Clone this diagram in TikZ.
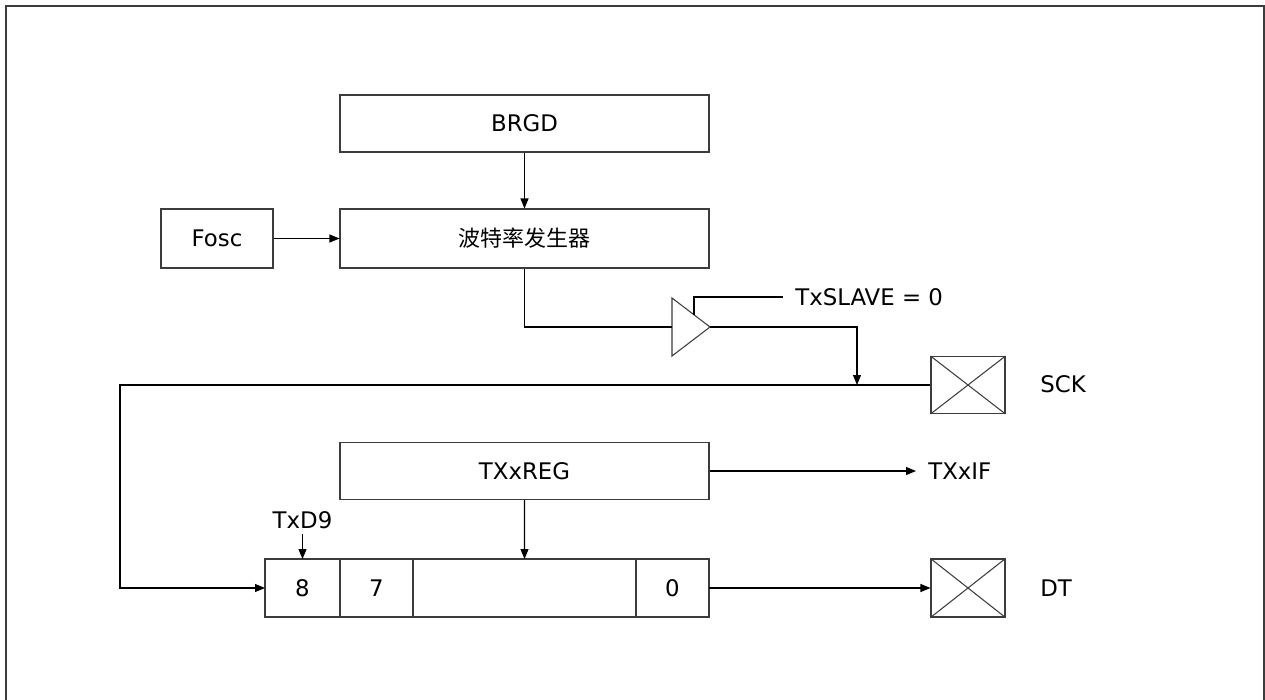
\documentclass[tikz,border=0pt]{standalone}
\usepackage{fontspec}
\setmainfont{DejaVu Sans}
\newfontfamily\cjk{Noto Sans CJK SC}
\usepackage{tikz}
\usetikzlibrary{positioning,arrows.meta,calc}
\definecolor{boxgray}{RGB}{60,60,60}
\tikzset{
  block-node/.style={draw=boxgray, line width=0.6pt, minimum width=369*0.02cm,
    minimum height=57*0.02cm, font=\fontsize{13}{15}\selectfont, inner sep=0pt},
  small-node/.style={draw=boxgray, line width=0.6pt, minimum width=112*0.02cm,
    minimum height=59*0.02cm, font=\fontsize{13}{15}\selectfont, inner sep=0pt},
  cell-node/.style={draw=boxgray, line width=0.6pt, minimum height=58*0.02cm,
    font=\fontsize{13}{15}\selectfont, inner sep=0pt, outer sep=0pt},
  pin-node/.style={draw=boxgray, line width=0.6pt, minimum width=74*0.02cm,
    minimum height=57*0.02cm, inner sep=0pt},
  label-text/.style={font=\fontsize{13}{15}\selectfont, inner sep=0pt},
  sig-line/.style={line width=0.6pt, draw=black},
  sig-arrow/.style={-{Triangle[length=2mm, width=1.6mm]}, line width=0.6pt, draw=black}
}
\begin{document}
\begin{tikzpicture}[x=0.02cm, y=-0.02cm]
\useasboundingbox (0,0) rectangle (1265,700);
% frame
\draw[line width=0.8pt, draw=boxgray] (6,700) -- (6,6) -- (1264,6) -- (1264,700);

% clock path
\node[block-node] (brgd) at (524.5,123.5) {BRGD};
\node[block-node, minimum height=59*0.02cm] (baud) at (524.5,238.5) {\cjk\fontsize{12.5}{15}\selectfont 波特率发生器};
\node[small-node] (fosc) at (217,238.5) {Fosc};
\draw[sig-arrow] (brgd) -- (baud);
\draw[sig-arrow] (fosc) -- (baud);

% output buffer
\coordinate (bufT) at (672,298);
\coordinate (bufB) at (672,356);
\coordinate (bufin) at (672,327);
\coordinate (bufout) at (710,327);
\coordinate (bufen) at (694,314.8);
\draw[line width=0.6pt, draw=boxgray] (bufT) -- (bufout) -- (bufB) -- cycle;
\node[label-text, anchor=west] (slave) at (795,297) {TxSLAVE = 0};
\draw[sig-line] (bufen) |- ($(slave.west)+(-12,0)$);
\draw[sig-line] (baud.south) |- (bufin);
\coordinate (tap) at (857,385);
\draw[sig-arrow] (bufout) -| (tap);

% SCK pin
\node[pin-node] (sck) at (968,385) {};
\draw[line width=0.6pt, draw=boxgray] (sck.north west) -- (sck.south east) (sck.south west) -- (sck.north east);
\node[label-text, anchor=west] (scklbl) at (1040,384.5) {SCK};

% transmit register
\node[block-node] (txreg) at (524.5,471) {TXxREG};
\node[label-text, anchor=west] (txif) at (928,471) {TXxIF};
\draw[sig-arrow, shorten >=12*0.02cm] (txreg) -- (txif);

% shift register
\node[cell-node, minimum width=75*0.02cm] (c8) at (302.5,588) {8};
\node[cell-node, minimum width=73*0.02cm, right=0pt of c8] (c7) {7};
\node[cell-node, minimum width=223*0.02cm, right=0pt of c7] (cmid) {};
\node[cell-node, minimum width=73*0.02cm, right=0pt of cmid] (c0) {0};
\draw[sig-arrow] (txreg) -- (cmid);
\node[label-text] (txd9) at (302.5,520) {TxD9};
\draw[sig-arrow] ([yshift=-5*0.02cm]txd9.south) -- (c8);
\coordinate (clkcorner) at (120,385);
\draw[sig-arrow] (sck.west) -- (clkcorner) |- (c8.west);

% DT pin
\node[pin-node, minimum height=58*0.02cm] (dt) at (968,588) {};
\draw[line width=0.6pt, draw=boxgray] (dt.north west) -- (dt.south east) (dt.south west) -- (dt.north east);
\node[label-text, anchor=west] (dtlbl) at (1040,588) {DT};
\draw[sig-arrow] (c0) -- (dt);
\end{tikzpicture}
\end{document}
